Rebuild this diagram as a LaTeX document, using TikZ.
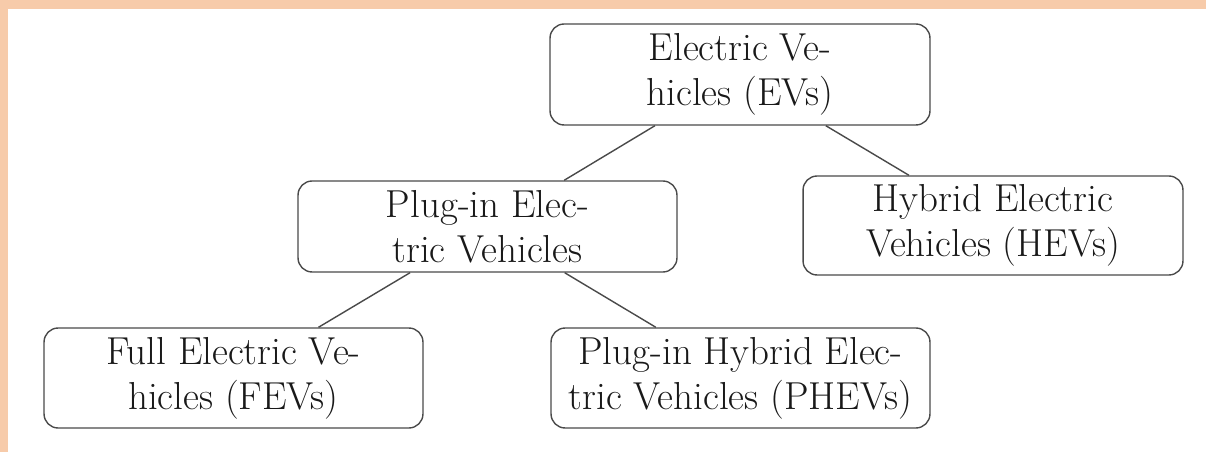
\documentclass[tikz,border=0pt]{standalone}
\usepackage{tikz}
\definecolor{peach}{HTML}{F7CBAA}
\definecolor{edgegray}{HTML}{4A4A4A}
\tikzset{
  box/.style={draw=edgegray, line width=0.8pt, rounded corners=8pt, fill=white,
    minimum width=7.6cm, align=center, inner sep=0pt,
    font=\fontsize{22.2}{25.5}\selectfont, text=black!90},
  link/.style={draw=edgegray, line width=0.8pt}
}
\begin{document}
\begin{tikzpicture}[x=0.02cm, y=-0.02cm]
\useasboundingbox (0,0) rectangle (1206,452);
\fill[white] (0,0) rectangle (1206,452);
\fill[peach] (0,0) rectangle (1206,9);
\fill[peach] (0,0) rectangle (8,452);
\node[box, minimum height=2.02cm] (ev) at (740,74.5) {Electric Ve-\\hicles (EVs)};
\node[box, minimum height=1.82cm, minimum width=7.58cm] (pev) at (487.5,226.5) {Plug-in Elec-\\tric Vehicles};
\node[box, minimum height=1.98cm] (hev) at (993,225.5) {Hybrid Electric\\Vehicles (HEVs)};
\node[box, minimum height=2.0cm, minimum width=7.58cm] (fev) at (233.5,378) {Full Electric Ve-\\hicles (FEVs)};
\node[box, minimum height=2.0cm, minimum width=7.58cm] (phev) at (740.5,378) {Plug-in Hybrid Elec-\\tric Vehicles (PHEVs)};
\draw[link] (ev) -- (pev);
\draw[link] (ev) -- (hev);
\draw[link] (pev) -- (fev);
\draw[link] (pev) -- (phev);
\end{tikzpicture}
\end{document}
